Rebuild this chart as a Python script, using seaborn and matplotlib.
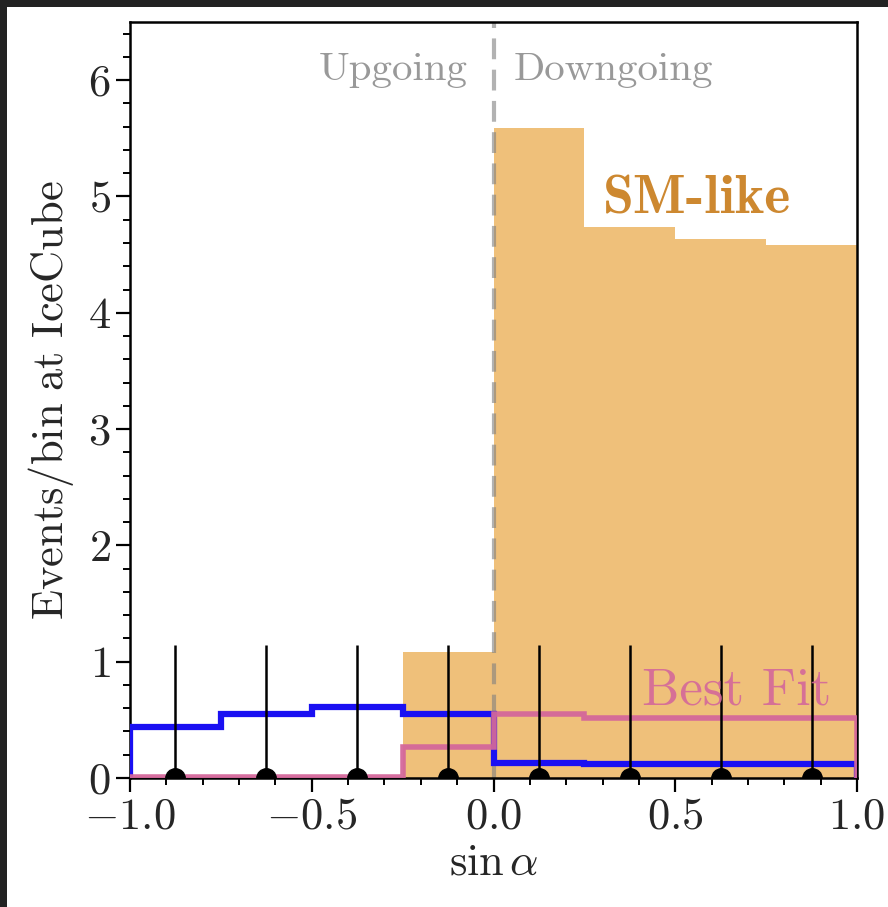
import numpy as np
import matplotlib
matplotlib.use("Agg")
import matplotlib.pyplot as plt
import seaborn as sns
from matplotlib.patches import Rectangle
from matplotlib.ticker import MultipleLocator

# ---- data ----
bin_edges = [-1.0, -0.75, -0.5, -0.25, 0.0, 0.25, 0.5, 0.75, 1.0]
bin_centers = [-0.875, -0.625, -0.375, -0.125, 0.125, 0.375, 0.625, 0.875]
sm_like = [0.0, 0.0, 0.0, 1.08, 5.59, 4.74, 4.63, 4.58]
blue_model = [0.44, 0.55, 0.61, 0.55, 0.13, 0.12, 0.12, 0.12]
best_fit = [0.01, 0.01, 0.01, 0.27, 0.55, 0.52, 0.52, 0.52]
observed = [0, 0, 0, 0, 0, 0, 0, 0]
err_upper = [1.14, 1.14, 1.14, 1.14, 1.14, 1.14, 1.14, 1.14]
x_ticks = [-1.0, -0.5, 0.0, 0.5, 1.0]
y_ticks = [0, 1, 2, 3, 4, 5, 6]

sns.set_style("ticks")
plt.rcParams["font.family"] = ["cmr10", "DejaVu Sans"]
plt.rcParams["mathtext.fontset"] = "cm"
plt.rcParams["axes.formatter.use_mathtext"] = True
plt.rcParams["axes.unicode_minus"] = True

fig = plt.figure(figsize=(8.88, 9.07), dpi=100)
fig.patch.set_facecolor("#222222")
# white canvas (screenshot look: dark strip at left and top)
fig.add_artist(Rectangle((7 / 888, 0), 1, 1 - 7 / 907, transform=fig.transFigure,
                         facecolor="white", edgecolor="none", zorder=-10))

ax = fig.add_axes([130 / 888, 1 - 778 / 907, (857 - 130) / 888, (778 - 22) / 907])
ax.set_facecolor("white")

# SM-like filled histogram
sns.histplot(x=bin_centers, weights=sm_like, bins=bin_edges, ax=ax,
             element="bars", fill=True, color="#EFC07A", alpha=1.0,
             linewidth=0, zorder=1)

# step lines
ax.stairs(blue_model, bin_edges, baseline=0, fill=False, color="#1a10f2",
          linewidth=4.5, zorder=3)
ax.stairs(best_fit, bin_edges, baseline=0, fill=False, color="#D4679A",
          linewidth=4, alpha=0.95, zorder=4)

# data points with upper error bars
ax.errorbar(bin_centers, observed, yerr=[np.zeros(len(observed)), err_upper],
            fmt="o", color="black", markersize=14, elinewidth=1.8,
            capsize=0, zorder=5, clip_on=True)

# up/down separator
ax.axvline(0.0, color="gray", alpha=0.6, linewidth=3, dashes=(5, 2.5), zorder=2)

ax.text(-0.07, 6.09, "Upgoing", ha="right", va="center", fontsize=29.5, color="#999999")
ax.text(0.055, 6.09, "Downgoing", ha="left", va="center", fontsize=29.5, color="#999999")
ax.text(0.56, 4.97, "SM-like", ha="center", va="center", fontsize=40,
        color="#CD8830", family=["cmb10", "DejaVu Sans"])
ax.text(0.67, 0.75, "Best Fit", ha="center", va="center", fontsize=38,
        color="#D4679A", alpha=0.9, zorder=6)

ax.set_xlim(-1.0, 1.0)
ax.set_ylim(0, 6.5)
ax.set_xticks(x_ticks)
ax.set_yticks(y_ticks)
ax.xaxis.set_minor_locator(MultipleLocator(0.1))
ax.yaxis.set_minor_locator(MultipleLocator(0.2))
ax.xaxis.set_major_formatter(matplotlib.ticker.FuncFormatter(lambda v, p: f"${v:.1f}$"))
ax.yaxis.set_major_formatter(matplotlib.ticker.FuncFormatter(lambda v, p: f"${int(v)}$"))
ax.tick_params(axis="both", which="major", direction="out", length=10, width=1.6,
               labelsize=32, color="black", pad=4)
ax.tick_params(axis="both", which="minor", direction="out", length=5, width=1.4, color="black")
for s in ax.spines.values():
    s.set_visible(True)
    s.set_linewidth(1.8)
    s.set_color("black")

ax.set_xlabel(r"$\sin\alpha$", fontsize=32, labelpad=4)
ax.set_ylabel(r"$\mathrm{Events/bin\ at\ IceCube}$", fontsize=32, labelpad=8)

fig.savefig("out.png", dpi=100, facecolor=fig.get_facecolor())
